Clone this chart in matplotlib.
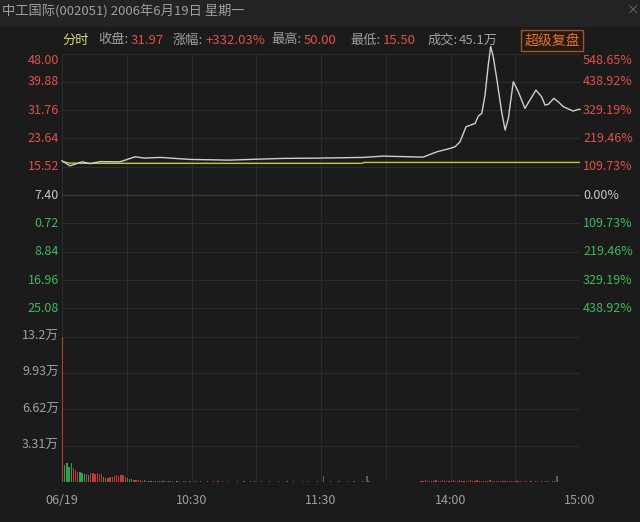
import matplotlib
matplotlib.use("Agg")
import matplotlib.pyplot as plt
from matplotlib.patches import Rectangle

plt.rcParams['font.family'] = ['Noto Sans CJK SC', 'DejaVu Sans']

# --------------------
# Data
# --------------------
# minute since 09:30 (0..240, lunch break removed) and price
price_min = [0, 3.7, 9.3, 13, 17.6, 26.9, 33.8, 38.5, 45.4, 59.3, 77.8, 91.7,
             102.4, 119.5, 139.5, 148.7, 167.3, 173.7, 179.8, 182.1, 184.4,
             187.2, 191.4, 192.9, 194.5, 196, 197.5, 198.6, 199.8, 201.4,
             203.7, 205.3, 206.8, 209.1, 211.4, 214.5, 216.8, 219.6, 222.2,
             223.8, 225.3, 227.9, 229.9, 232.3, 236.9, 239.2, 240]
price_val = [17.24, 15.81, 16.95, 16.44, 17.01, 16.95, 18.39, 18.02, 18.22,
             17.64, 17.44, 17.73, 17.93, 18.02, 18.22, 18.59, 18.30, 19.82,
             20.80, 21.26, 22.69, 27.00, 27.97, 30.07, 30.84, 36.09, 44.70,
             50.00, 47.08, 40.88, 31.30, 26.05, 29.41, 39.91, 37.04, 32.27,
             34.66, 37.52, 35.60, 33.22, 33.42, 35.14, 34.17, 32.73, 31.50,
             31.99, 31.97]

avg_min = [0, 3, 10, 139, 140, 240]
avg_val = [17.10, 16.60, 16.52, 16.52, 16.78, 16.78]

# volume per minute, in 万 shares
volume = [
    13.2, 1.55, 1.71, 1.40, 1.76, 1.25, 1.10, 0.95, 0.90, 0.85,
    0.70, 0.72, 0.60, 0.80, 0.78, 0.75, 0.80, 0.70, 0.76, 0.45,
    0.40, 0.35, 0.42, 0.50, 0.55, 0.62, 0.58, 0.66, 0.60, 0.50,
    0.40, 0.30, 0.25, 0.20, 0.22, 0.18, 0.15, 0.12, 0.14, 0.10,
    0.10, 0.12, 0.08, 0.10, 0.07, 0.06, 0.08, 0.05, 0.06, 0.05,
    0.07, 0.05, 0.04, 0.06, 0.05, 0.04, 0.05, 0.06, 0.04, 0.05,
    0.04, 0.05, 0.06, 0.04, 0.05, 0.03, 0.04, 0.05, 0.04, 0.03,
    0.05, 0.04, 0.06, 0.04, 0.05, 0.03, 0.04, 0.05, 0.04, 0.03,
    0.04, 0.05, 0.03, 0.04, 0.05, 0.04, 0.03, 0.05, 0.04, 0.06,
    0.04, 0.03, 0.05, 0.04, 0.03, 0.04, 0.05, 0.04, 0.03, 0.04,
    0.05, 0.04, 0.03, 0.04, 0.05, 0.04, 0.03, 0.05, 0.04, 0.03,
    0.04, 0.05, 0.03, 0.04, 0.05, 0.04, 0.03, 0.04, 0.05, 0.04,
    0.04, 0.55, 0.04, 0.03, 0.05, 0.04, 0.03, 0.04, 0.05, 0.04,
    0.03, 0.04, 0.05, 0.03, 0.04, 0.05, 0.04, 0.03, 0.04, 0.05,
    0.04, 0.55, 0.05, 0.03, 0.01, 0.01, 0.01, 0.01, 0.01, 0.01,
    0.01, 0.01, 0.01, 0.01, 0.01, 0.01, 0.01, 0.01, 0.01, 0.01,
    0.01, 0.01, 0.01, 0.01, 0.01, 0.01, 0.12, 0.10, 0.14, 0.12,
    0.11, 0.13, 0.10, 0.15, 0.12, 0.11, 0.14, 0.12, 0.10, 0.13,
    0.12, 0.15, 0.11, 0.12, 0.14, 0.10, 0.13, 0.12, 0.11, 0.15,
    0.12, 0.10, 0.14, 0.12, 0.13, 0.11, 0.12, 0.10, 0.14, 0.12,
    0.11, 0.13, 0.12, 0.10, 0.12, 0.11, 0.13, 0.12, 0.10, 0.12,
    0.11, 0.10, 0.05, 0.04, 0.05, 0.06, 0.04, 0.05, 0.04, 0.05,
    0.06, 0.04, 0.05, 0.04, 0.05, 0.06, 0.04, 0.05, 0.06, 0.55,
]
# r = up (red), g = down (green), w = flat (gray)
vol_dir = ("rggggrrrgggrgrrrrrrg"
           "grrrrrrrrrgggrrrrrgr"
           "rgrwrgrwrgrwrgrwrgrw"
           "rwrgrwrwrgrwrgrwrwrg"
           "rwrgrwrwrgrwrgrwrwrg"
           "rwrgrwrwrgrwrgrwrwrg"
           "rwrgrwrwrgrwrgrwrwrg"
           "rwrgrwwwwwwwwwwwwwww"
           "wwwwwwrrrrrrrrrrrrrr"
           "rrrrrrrrrrrrrrrrrrrr"
           "rrrrrrrrrrrrrrrrrrrr"
           "rrwwwwwwwwwwwwwwwwww")

price_ticks = [48.00, 39.88, 31.76, 23.64, 15.52, 7.40, -0.72, -8.84, -16.96, -25.08, -33.20]
left_labels = ["48.00", "39.88", "31.76", "23.64", "15.52", "7.40", "0.72", "8.84", "16.96", "25.08"]
right_labels = ["548.65%", "438.92%", "329.19%", "219.46%", "109.73%", "0.00%",
                "109.73%", "219.46%", "329.19%", "438.92%"]
vol_ticks = [13.2, 9.93, 6.62, 3.31, 0]
vol_labels = ["13.2万", "9.93万", "6.62万", "3.31万"]
time_ticks = [0, 60, 120, 180, 240]
time_labels = ["06/19", "10:30", "11:30", "14:00", "15:00"]

BG = "#1b1b1b"
GRID = "#2c2c2c"
RED = "#e0504c"
GREEN = "#3fb95c"
GRAY = "#a0a0a0"
W, H = 640, 522

fig = plt.figure(figsize=(6.4, 5.22), dpi=100, facecolor=BG)

# header band
fig.patches.append(Rectangle((0, 1 - 27 / H), 1, 27 / H, transform=fig.transFigure,
                             facecolor="#232323", edgecolor="none", zorder=0))
fig.text(2 / W, 1 - 11 / H, "中工国际(002051) 2006年6月19日 星期一", color=GRAY,
         fontsize=9.5, va="center", ha="left")
fig.text(627 / W, 1 - 11 / H, "×", color="#707070", fontsize=9, va="center", ha="left")

# info row
y_info = 1 - 40 / H
info = [(62, "分时", "#d6d68a"), (98, "收盘:", GRAY), (131, "31.97", RED),
        (173, "涨幅:", GRAY), (206, "+332.03%", RED), (271, "最高:", GRAY),
        (304, "50.00", RED), (350, "最低:", GRAY), (383, "15.50", RED),
        (428, "成交:", GRAY), (459, "45.1万", GRAY)]
for x, s, c in info:
    fig.text(x / W, y_info, s, color=c, fontsize=9.5, va="center", ha="left")
fig.text(552 / W, 1 - 40.5 / H, "超级复盘", color="#e8702a", fontsize=10, va="center", ha="center",
         bbox=dict(boxstyle="square,pad=0.25", facecolor="#241a14", edgecolor="#a0522d", lw=1))

x0, x1 = 62 / W, 580 / W
ax = fig.add_axes([x0, 1 - 336.8 / H, x1 - x0, (336.8 - 53.5) / H])
axv = fig.add_axes([x0, 1 - 482 / H, x1 - x0, (482 - 336.8) / H])

for a in (ax, axv):
    a.set_facecolor(BG)
    for s in a.spines.values():
        s.set_visible(False)
    a.set_xlim(0, 240)
    a.set_xticks(range(0, 241, 30))
    a.tick_params(length=0, labelleft=False, labelbottom=False)
    a.grid(True, color=GRID, lw=0.8)
    a.set_axisbelow(True)

ax.set_ylim(-33.2, 48.0)
ax.set_yticks(price_ticks)
ax.axhline(7.40, color="#3a3a3a", lw=1, zorder=1)

ax.plot(avg_min, avg_val, color="#c8c832", lw=1, zorder=3)
ax.plot(price_min, price_val, color="#cfcfcf", lw=1, zorder=4, clip_on=False)

ty = ax.get_yaxis_transform()
for i, (v, l, r) in enumerate(zip(price_ticks, left_labels, right_labels)):
    c = RED if v > 7.4 else ("#c8c8c8" if v == 7.4 else GREEN)
    va = "top" if i == 0 else "center"
    ax.text(-0.006, v, l, transform=ty, color=c, fontsize=9, ha="right", va=va)
    ax.text(1.006, v, r, transform=ty, color=c, fontsize=9, ha="left", va=va)

# volume
axv.set_ylim(0, 13.2)
axv.set_yticks(vol_ticks)
cmap = {"r": "#c0393b", "g": "#2fa050", "w": "#5e5e5e"}
colors = [cmap[d] for d in vol_dir]
axv.bar(range(len(volume)), volume, width=0.6, align="edge", color=colors, lw=0, zorder=3)

tyv = axv.get_yaxis_transform()
for v, l in zip(vol_ticks, vol_labels):
    axv.text(-0.006, v, l, transform=tyv, color=GRAY, fontsize=9, ha="right", va="center")

txv = axv.get_xaxis_transform()
for m, l in zip(time_ticks, time_labels):
    axv.text(m, -18 / 145.2, l, transform=txv, color=GRAY, fontsize=9, ha="center", va="center")

fig.savefig("out.png", dpi=100, facecolor=BG)
